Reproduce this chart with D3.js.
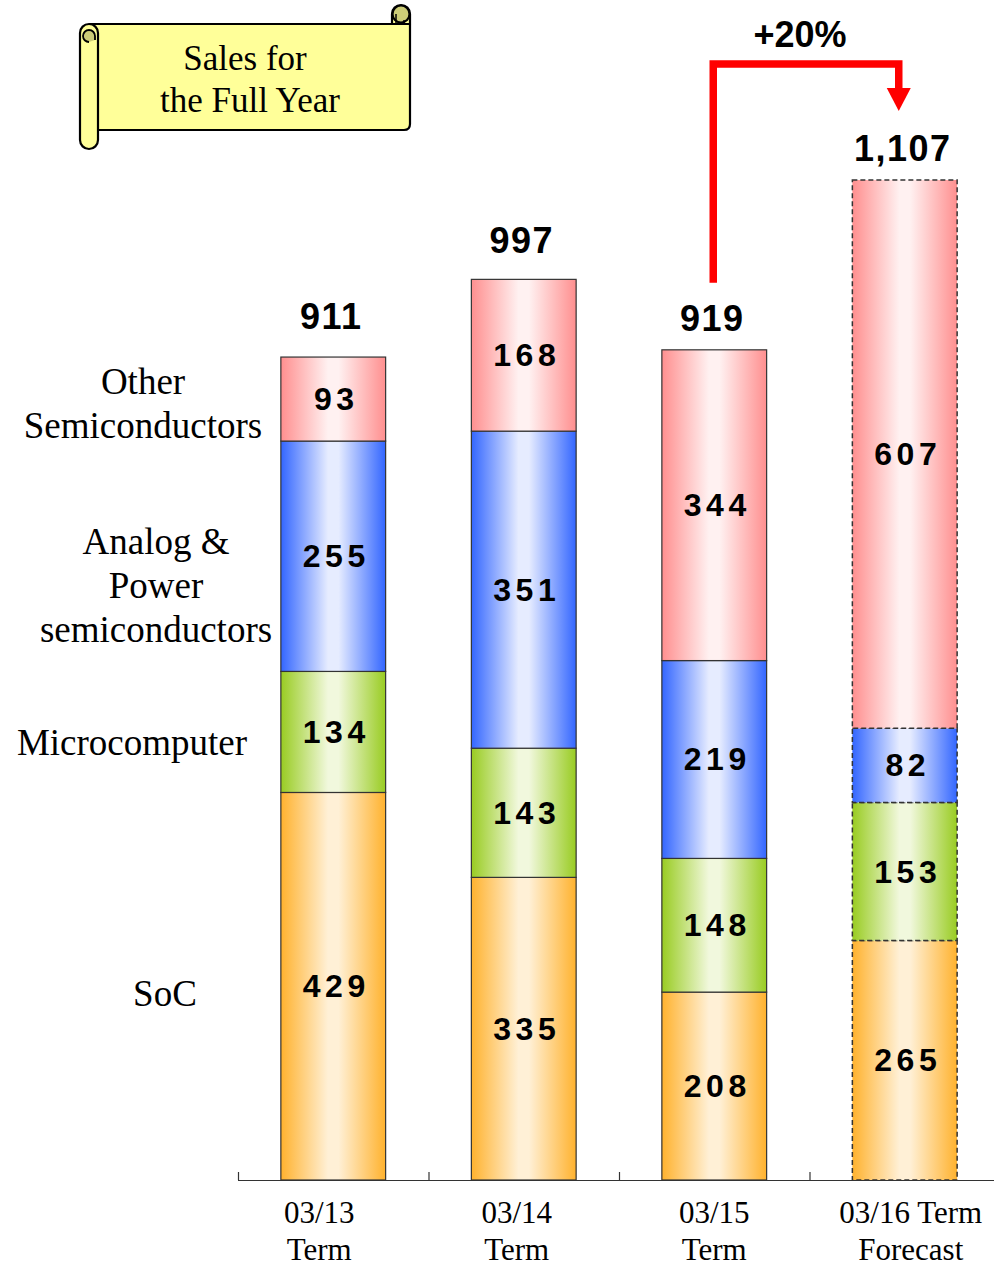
<!DOCTYPE html>
<html>
<head>
<meta charset="utf-8">
<script src="https://cdn.jsdelivr.net/npm/d3@7"></script>
<style>
  html, body { margin: 0; padding: 0; background: #fff; }
  svg { display: block; }
</style>
</head>
<body>
<svg id="chart" width="994" height="1268"></svg>
<script>
// Fiscal terms shown on the x axis
const terms = ["03/13 Term", "03/14 Term", "03/15 Term", "03/16 Term Forecast"];
const termLines = [["03/13", "Term"], ["03/14", "Term"], ["03/15", "Term"], ["03/16 Term", "Forecast"]];
const forecast = [false, false, false, true];

// Segments stacked bottom-up
const segments = ["SoC", "Microcomputer", "Analog & Power semiconductors", "Other Semiconductors"];
const soc = [429, 335, 208, 265];
const microcomputer = [134, 143, 148, 153];
const analogPower = [255, 351, 219, 82];
const otherSemis = [93, 168, 344, 607];
const totals = [911, 997, 919, 1107];
const growthLabel = "+20%";

const segmentLabels = [["SoC"], ["Microcomputer"], ["Analog &", "Power", "semiconductors"], ["Other", "Semiconductors"]];

const svg = d3.select("#chart");
const serif = "'Liberation Serif', 'Times New Roman', serif";
const sans = "'Liberation Sans', Arial, sans-serif";

// Horizontal gradients: saturated at the edges, pale in the middle
const palette = [
  { edge: "#ffb22e", mid: "#fff0d6" },
  { edge: "#99cc22", mid: "#f1f8dd" },
  { edge: "#3366ff", mid: "#e6ecff" },
  { edge: "#ff8f8f", mid: "#fff1f1" }
];
const defs = svg.append("defs");
palette.forEach((p, i) => {
  const g = defs.append("linearGradient").attr("id", "grad" + i)
    .attr("x1", "0%").attr("x2", "100%").attr("y1", "0%").attr("y2", "0%");
  g.append("stop").attr("offset", "0%").attr("stop-color", p.edge);
  g.append("stop").attr("offset", "45%").attr("stop-color", p.mid);
  g.append("stop").attr("offset", "55%").attr("stop-color", p.mid);
  g.append("stop").attr("offset", "100%").attr("stop-color", p.edge);
});

const x = d3.scaleBand().domain(terms).range([238, 1000]).paddingInner(0.45).paddingOuter(0.225);
const y = d3.scaleLinear().domain([0, 1107]).range([1180, 180]);

// Stack the series
const rows = terms.map((t, i) => ({
  term: t,
  [segments[0]]: soc[i],
  [segments[1]]: microcomputer[i],
  [segments[2]]: analogPower[i],
  [segments[3]]: otherSemis[i]
}));
const stacked = d3.stack().keys(segments)(rows);

// Bars
stacked.forEach((layer, si) => {
  const g = svg.append("g");
  g.selectAll("rect").data(layer).join("rect")
    .attr("x", d => x(d.data.term))
    .attr("y", d => y(d[1]))
    .attr("width", x.bandwidth())
    .attr("height", d => y(d[0]) - y(d[1]))
    .attr("fill", "url(#grad" + si + ")")
    .attr("stroke", "#333")
    .attr("stroke-width", (d, i) => forecast[i] ? 1.5 : 1.2)
    .attr("stroke-dasharray", (d, i) => forecast[i] ? "5,3" : null);

  g.selectAll("text").data(layer).join("text")
    .attr("x", d => x(d.data.term) + x.bandwidth() / 2 + 3)
    .attr("y", d => (y(d[0]) + y(d[1])) / 2 + 11)
    .attr("text-anchor", "middle")
    .attr("font-family", sans)
    .attr("font-weight", "bold")
    .attr("font-size", 32)
    .attr("letter-spacing", 4.5)
    .text(d => d[1] - d[0]);
});

// Totals above each bar
const totalGap = [28, 26, 19, 19];
svg.append("g").selectAll("text").data(totals).join("text")
  .attr("x", (d, i) => x(terms[i]) + x.bandwidth() / 2 - 2)
  .attr("y", (d, i) => y(d) - totalGap[i])
  .attr("text-anchor", "middle")
  .attr("font-family", sans)
  .attr("font-weight", "bold")
  .attr("font-size", 36)
  .attr("letter-spacing", 1.5)
  .text(d => d3.format(",")(d));

// Axis baseline with ticks at the band boundaries
const axis = svg.append("g");
axis.append("line")
  .attr("x1", 238).attr("x2", 994)
  .attr("y1", y(0) + 0.5).attr("y2", y(0) + 0.5)
  .attr("stroke", "#333").attr("stroke-width", 1.2);
const step = x.step();
const boundaries = terms.map((t, i) => x.range()[0] + i * step);
axis.selectAll("line.tick").data(boundaries).join("line")
  .attr("class", "tick")
  .attr("x1", d => d + 0.5).attr("x2", d => d + 0.5)
  .attr("y1", y(0) - 8).attr("y2", y(0))
  .attr("stroke", "#333").attr("stroke-width", 1.2);

// Category labels under the axis
const labelShift = [-14, -7, 0, 6];
termLines.forEach((lines, i) => {
  const t = axis.append("text")
    .attr("text-anchor", "middle")
    .attr("font-family", serif)
    .attr("font-size", 31)
    .attr("fill", "#000");
  lines.forEach((ln, j) => {
    t.append("tspan")
      .attr("x", x(terms[i]) + x.bandwidth() / 2 + labelShift[i])
      .attr("y", 1223 + j * 37)
      .text(ln);
  });
});

// Segment names on the left, beside the first bar's segments
const labelX = [165, 132, 156, 143];
const labelDy = [20, 23, 42, 17];
const s0 = stacked.map(layer => layer[0]);
segmentLabels.forEach((lines, si) => {
  const mid = (y(s0[si][0]) + y(s0[si][1])) / 2;
  const lh = 44;
  const t = svg.append("text")
    .attr("text-anchor", "middle")
    .attr("font-family", serif)
    .attr("font-size", 37)
    .attr("fill", "#000");
  lines.forEach((ln, j) => {
    t.append("tspan")
      .attr("x", labelX[si])
      .attr("y", mid + labelDy[si] + (j - (lines.length - 1) / 2) * lh)
      .text(ln);
  });
});

// Growth arrow from the 03/15 total to the 03/16 forecast total
const ax0 = x(terms[2]) + x.bandwidth() / 2 - 1;
const ax1 = x(terms[3]) + x.bandwidth() / 2 - 6;
const ayTop = 64;
svg.append("path")
  .attr("d", `M${ax0},${y(totals[2]) - 67} V${ayTop} H${ax1} V${90}`)
  .attr("fill", "none")
  .attr("stroke", "#ff0000")
  .attr("stroke-width", 7.5)
  .attr("stroke-linejoin", "miter");
svg.append("path")
  .attr("d", `M${ax1 - 12},88 L${ax1 + 12},88 L${ax1},111 Z`)
  .attr("fill", "#ff0000");
svg.append("text")
  .attr("x", (ax0 + ax1) / 2 - 6)
  .attr("y", 47)
  .attr("text-anchor", "middle")
  .attr("font-family", sans)
  .attr("font-weight", "bold")
  .attr("font-size", 36)
  .text(growthLabel);

// Scroll banner title
const scroll = svg.append("g").attr("stroke", "#000").attr("stroke-width", 2.2).attr("stroke-linejoin", "round");
const yellow = "#ffff99";
const shade = "#cccc77";
// right curl at the top
scroll.append("path")
  .attr("d", "M392,24 V14 A9,9 0 0 1 410,14 V24 Z")
  .attr("fill", yellow);
// main sheet
scroll.append("path")
  .attr("d", "M90,24 H410 V124 Q410,130 404,130 H97 Z")
  .attr("fill", yellow);
scroll.append("circle").attr("cx", 401).attr("cy", 14).attr("r", 8.5).attr("fill", shade);
scroll.append("path")
  .attr("d", "M396,14 V24 M404,24 V20")
  .attr("fill", "none").attr("stroke-width", 1.5);
// left roll
scroll.append("path")
  .attr("d", "M80,33 A9,9 0 0 1 98,33 V140 A9,9 0 0 1 80,140 Z")
  .attr("fill", yellow);
scroll.append("path")
  .attr("d", "M89,42 A6,6 0 0 1 89,30 A6,6 0 0 1 95,36 V40")
  .attr("fill", shade).attr("stroke-width", 1.8);

const title = svg.append("text")
  .attr("text-anchor", "middle")
  .attr("font-family", serif)
  .attr("font-size", 35)
  .attr("fill", "#000");
title.append("tspan").attr("x", 245).attr("y", 70).text("Sales for");
title.append("tspan").attr("x", 250).attr("y", 112).text("the Full Year");
</script>
</body>
</html>
